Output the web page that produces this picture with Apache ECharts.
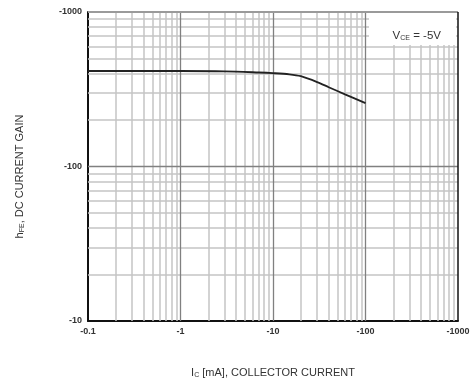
<!DOCTYPE html>
<html>
<head>
<meta charset="utf-8">
<script src="https://cdn.jsdelivr.net/npm/echarts@6/dist/echarts.min.js"></script>
<style>html,body{margin:0;padding:0;background:#fff}#c{width:473px;height:386px}</style>
</head>
<body>
<div id="c"></div>
<script>
// Collector current magnitude (mA) and DC current gain magnitude (plotted as negative values)
const currentMA = [0.1, 0.3, 1, 3, 7, 10, 15, 20, 30, 40, 60, 100];
const gainHFE = [415, 415, 415, 413, 406, 402, 395, 384, 352, 326, 293, 257];
const xTicks = [0.1, 1, 10, 100, 1000];
const yTicks = [10, 100, 1000];
const minorMult = [2, 3, 4, 5, 6, 7, 8, 9];

const xMinor = [];
for (let i = 0; i < xTicks.length - 1; i++) minorMult.forEach(m => xMinor.push(+(xTicks[i] * m).toPrecision(3)));
const yMinor = [];
for (let i = 0; i < yTicks.length - 1; i++) minorMult.forEach(m => yMinor.push(+(yTicks[i] * m).toPrecision(3)));

const font = 'Liberation Sans, Arial, sans-serif';
const chart = echarts.init(document.getElementById('c'), null, {renderer: 'canvas'});
chart.setOption({
  animation: false,
  backgroundColor: '#fff',
  grid: {left: 88, right: 15, top: 12, bottom: 65},
  title: {
    text: '{a|V}{b|CE}{a| = -5V}',
    right: 27, top: 25, z: 20,
    textStyle: {fontWeight: 'normal', rich: {
      a: {fontFamily: font, fontSize: 11.5, fontWeight: 'normal', color: '#333'},
      b: {fontFamily: font, fontSize: 7, fontWeight: 'normal', color: '#333', verticalAlign: 'bottom', padding: [5, 0, 0, 0]}
    }}
  },
  xAxis: {
    type: 'log', logBase: 10, min: 0.1, max: 1000,
    axisLine: {show: true, onZero: false, lineStyle: {color: '#111', width: 2}},
    axisTick: {show: false},
    splitLine: {show: false},
    axisLabel: {formatter: v => '-' + v, fontFamily: font, fontSize: 9, fontWeight: 'bold', color: '#333', margin: 6},
    name: '{a|I}{b|C}{a| [mA], COLLECTOR CURRENT}',
    nameLocation: 'middle', nameGap: 46,
    nameTextStyle: {rich: {
      a: {fontFamily: font, fontSize: 11, color: '#333'},
      b: {fontFamily: font, fontSize: 7, color: '#333', verticalAlign: 'bottom', padding: [5, 0, 0, 0]}
    }}
  },
  yAxis: {
    type: 'log', logBase: 10, min: 10, max: 1000,
    axisLine: {show: true, onZero: false, lineStyle: {color: '#111', width: 2}},
    axisTick: {show: false},
    splitLine: {show: false},
    axisLabel: {formatter: v => '-' + v, fontFamily: font, fontSize: 9, fontWeight: 'bold', color: '#333', margin: 6},
    name: '{a|h}{b|FE}{a|, DC CURRENT GAIN}',
    nameLocation: 'middle', nameGap: 62, nameRotate: 90,
    nameTextStyle: {padding: [0, 20, 0, 0], rich: {
      a: {fontFamily: font, fontSize: 11, color: '#333'},
      b: {fontFamily: font, fontSize: 7, color: '#333', verticalAlign: 'bottom', padding: [5, 0, 0, 0]}
    }}
  },
  graphic: [{
    type: 'rect', z: 10,
    shape: {x: 369, y: 13, width: 87, height: 32},
    style: {fill: '#fff'}
  }],
  series: [
    {
      type: 'line', data: [], z: 1, silent: true,
      markLine: {
        z: 1, silent: true, symbol: 'none', label: {show: false}, animation: false,
        lineStyle: {color: '#c4c4c4', width: 1.5, type: 'solid'},
        data: xMinor.map(v => ({xAxis: v})).concat(yMinor.map(v => ({yAxis: v})))
      }
    },
    {
      type: 'line', data: [], z: 2, silent: true,
      markLine: {
        z: 2, silent: true, symbol: 'none', label: {show: false}, animation: false,
        lineStyle: {color: '#808080', width: 1.3, type: 'solid'},
        data: xTicks.slice(1, -1).map(v => ({xAxis: v})).concat(yTicks.slice(1, -1).map(v => ({yAxis: v})))
      }
    },
    {
      type: 'line', data: [], z: 12, silent: true,
      markLine: {
        z: 12, silent: true, symbol: 'none', label: {show: false}, animation: false,
        data: [
          {yAxis: yTicks[yTicks.length - 1], lineStyle: {color: '#9a9a9a', width: 2, type: 'solid'}},
          {xAxis: xTicks[xTicks.length - 1], lineStyle: {color: '#111', width: 1.5, type: 'solid'}}
        ]
      }
    },
    {
      type: 'line', z: 15,
      data: currentMA.map((x, i) => [x, gainHFE[i]]),
      showSymbol: false, symbol: 'none', smooth: 0.3,
      lineStyle: {color: '#222', width: 1.8}
    }
  ]
});
</script>
</body>
</html>
